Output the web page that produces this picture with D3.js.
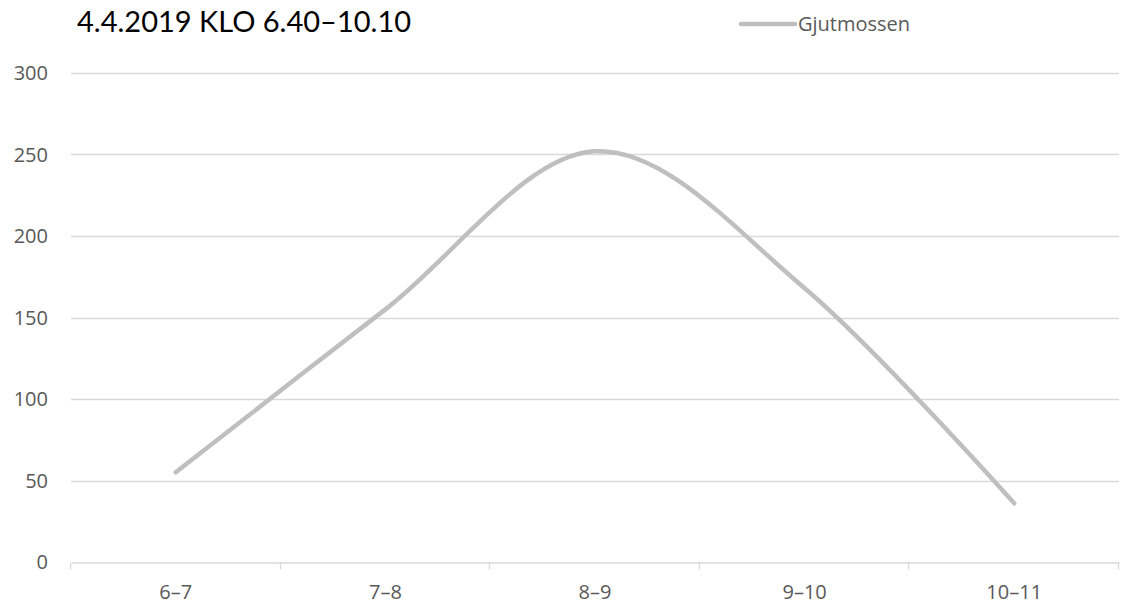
<!DOCTYPE html>
<html>
<head>
<meta charset="utf-8">
<script src="https://cdn.jsdelivr.net/npm/d3@7"></script>
<style>
  body { margin: 0; background: #fff; }
</style>
</head>
<body>
<div id="chart-area"></div>
<script>
const categories = ["6–7", "7–8", "8–9", "9–10", "10–11"];
const values = [55, 155, 252, 168, 36];
const yTicks = [0, 50, 100, 150, 200, 250, 300];
const seriesName = "Gjutmossen";
const title = "4.4.2019 KLO 6.40–10.10";

const width = 1121, height = 608;
const margin = { top: 73, right: 2, bottom: 46, left: 71 };

const svg = d3.select("#chart-area")
  .append("svg")
  .attr("width", width)
  .attr("height", height);

const x = d3.scaleBand()
  .domain(categories)
  .range([margin.left, width - margin.right]);

const y = d3.scaleLinear()
  .domain([0, 300])
  .range([height - margin.bottom, margin.top]);

// gridlines
svg.selectAll("line.grid")
  .data(yTicks.filter(d => d > 0))
  .enter()
  .append("line")
  .attr("class", "grid")
  .attr("x1", margin.left)
  .attr("x2", width - margin.right)
  .attr("y1", d => Math.round(y(d)) + 0.5)
  .attr("y2", d => Math.round(y(d)) + 0.5)
  .attr("stroke", "#d9d9d9")
  .attr("stroke-width", 1.3);

// y labels
svg.selectAll("text.ylab")
  .data(yTicks)
  .enter()
  .append("text")
  .attr("class", "ylab")
  .attr("x", 48)
  .attr("y", d => y(d) + 7)
  .attr("text-anchor", "end")
  .attr("font-family", "'Open Sans', sans-serif")
  .attr("font-size", 20)
  .attr("fill", "#595959")
  .text(d => d);

// x axis
const xAxis = svg.append("g")
  .attr("transform", `translate(0,${Math.round(y(0)) + 0.5})`)
  .call(d3.axisBottom(x).tickSize(0).tickPadding(0));
xAxis.select(".domain").attr("stroke", "#d9d9d9").attr("stroke-width", 1.3);
xAxis.selectAll("text")
  .attr("dy", null)
  .attr("y", 36)
  .attr("font-family", "'Open Sans', sans-serif")
  .attr("font-size", 20)
  .attr("fill", "#595959");

// category boundary ticks
const bounds = categories.map(c => x(c)).concat([x(categories[categories.length - 1]) + x.bandwidth()]);
xAxis.selectAll("line.bound")
  .data(bounds)
  .enter()
  .append("line")
  .attr("class", "bound")
  .attr("x1", d => Math.round(d) - 0.5)
  .attr("x2", d => Math.round(d) - 0.5)
  .attr("y1", 0)
  .attr("y2", 7)
  .attr("stroke", "#d9d9d9")
  .attr("stroke-width", 1.3);

// line
const line = d3.line()
  .x((d, i) => x(categories[i]) + x.bandwidth() / 2)
  .y(d => y(d))
  .curve(d3.curveCardinal.tension(0));

svg.append("path")
  .datum(values)
  .attr("d", line)
  .attr("fill", "none")
  .attr("stroke", "#bfbfbf")
  .attr("stroke-width", 4.5)
  .attr("stroke-linecap", "round")
  .attr("stroke-linejoin", "round");

// title
svg.append("text")
  .attr("x", 77)
  .attr("y", 32)
  .attr("font-family", "Lato, sans-serif")
  .attr("font-size", 29)
  .attr("fill", "#000")
  .text(title);

// legend
svg.append("line")
  .attr("x1", 741)
  .attr("x2", 795)
  .attr("y1", 24)
  .attr("y2", 24)
  .attr("stroke", "#bfbfbf")
  .attr("stroke-width", 4.5)
  .attr("stroke-linecap", "round");

svg.append("text")
  .attr("x", 798)
  .attr("y", 31)
  .attr("font-family", "'Open Sans', sans-serif")
  .attr("font-size", 20)
  .attr("fill", "#595959")
  .text(seriesName);
</script>
</body>
</html>
